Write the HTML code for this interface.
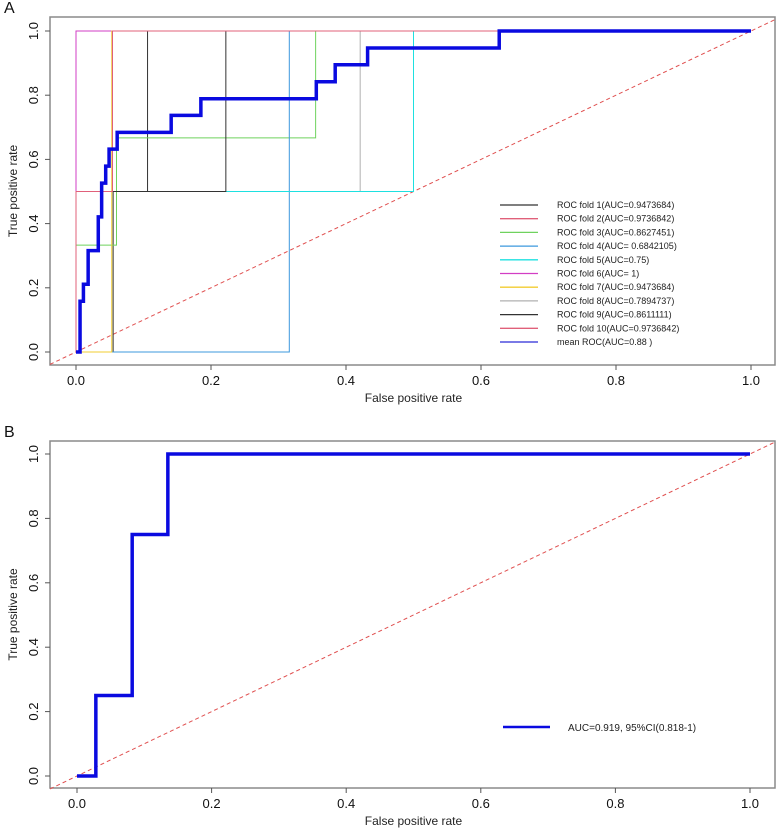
<!DOCTYPE html>
<html><head><meta charset="utf-8"><style>
html,body{margin:0;padding:0;background:#fff;}
svg{display:block;font-family:"Liberation Sans",Arial,sans-serif;}
</style></head><body>
<svg id="chart" width="777" height="833" viewBox="0 0 777 833" xmlns="http://www.w3.org/2000/svg"></svg>
<script>
// ---- data ----
const xTicks = [0, 0.2, 0.4, 0.6, 0.8, 1.0];
const yTicks = [0, 0.2, 0.4, 0.6, 0.8, 1.0];
const tickLabels = ["0.0","0.2","0.4","0.6","0.8","1.0"];
const foldNames = ["ROC fold 1(AUC=0.9473684)","ROC fold 2(AUC=0.9736842)","ROC fold 3(AUC=0.8627451)","ROC fold 4(AUC= 0.6842105)","ROC fold 5(AUC=0.75)","ROC fold 6(AUC= 1)","ROC fold 7(AUC=0.9473684)","ROC fold 8(AUC=0.7894737)","ROC fold 9(AUC=0.8611111)","ROC fold 10(AUC=0.9736842)","mean ROC(AUC=0.88 )"];
const foldColors = ["#333333","#e0607a","#6fd25e","#3c98dd","#1ee0e0","#d23ec4","#f2cc30","#b0b0b0","#333333","#e0607a","#2a2ad8"];
const fold1X = [0,0.055,0.055,0.106,0.106,1];     const fold1Y = [0,0,0.5,0.5,1,1];
const fold2X = [0,0,0.054,0.054,1];               const fold2Y = [0,0.5,0.5,1,1];
const fold3X = [0,0,0.06,0.06,0.355,0.355,1];     const fold3Y = [0,0.333,0.333,0.667,0.667,1,1];
const fold4X = [0,0.316,0.316,1];                 const fold4Y = [0,0,1,1];
const fold5X = [0,0,0.5,0.5,1];                   const fold5Y = [0,0.5,0.5,1,1];
const fold6X = [0,0,1];                           const fold6Y = [0,1,1];
const fold7X = [0,0.053,0.053,0.053,1];           const fold7Y = [0,0,0.5,1,1];
const fold8X = [0,0,0.421,0.421,1];               const fold8Y = [0,0.5,0.5,1,1];
const fold9X = [0,0,0.222,0.222,1];               const fold9Y = [0,0.5,0.5,1,1];
const fold10X = [0,0,0.054,0.054,1];              const fold10Y = [0,0.5,0.5,1,1];
const meanX = [0,0.006,0.006,0.011,0.011,0.018,0.018,0.033,0.033,0.038,0.038,0.044,0.044,0.049,0.049,0.061,0.061,0.141,0.141,0.185,0.185,0.356,0.356,0.384,0.384,0.432,0.432,0.627,0.627,1];
const meanY = [0,0,0.158,0.158,0.211,0.211,0.316,0.316,0.421,0.421,0.526,0.526,0.579,0.579,0.632,0.632,0.684,0.684,0.737,0.737,0.789,0.789,0.842,0.842,0.895,0.895,0.947,0.947,1,1];
const bX = [0,0.028,0.028,0.082,0.082,0.135,0.135,1];
const bY = [0,0,0.25,0.25,0.75,0.75,1,1];
const bLegend = "AUC=0.919, 95%CI(0.818-1)";

const NS="http://www.w3.org/2000/svg";
const svg=document.getElementById('chart');
function mk(tag,attrs,parent){const e=document.createElementNS(NS,tag);for(const k in attrs)e.setAttribute(k,attrs[k]);(parent||svg).appendChild(e);return e;}

function panel(p){
  const g=mk('g',{});
  
  
  const sx=v=>p.x0+(p.x1-p.x0)*v, sy=v=>p.y0-(p.y0-p.y1)*v;
  const box=mk('rect',{x:50,y:p.top,width:725,height:p.bottom-p.top,fill:'none',stroke:'#8a8a8a','stroke-width':1.5},g);
  
  
  const lab=mk('text',{x:4,y:p.top-4,'font-size':16,fill:'#111'},g);lab.textContent=p.letter;
  
  
  xTicks.forEach((v,i)=>{
    mk('line',{x1:sx(v),x2:sx(v),y1:p.bottom,y2:p.bottom+5,stroke:'#555'},g);
    const t=mk('text',{x:sx(v),y:p.bottom+20,'font-size':13,'text-anchor':'middle',fill:'#111'},g);t.textContent=tickLabels[i];
    
    
  });
  yTicks.forEach((v,i)=>{
    mk('line',{x1:45,x2:50,y1:sy(v),y2:sy(v),stroke:'#555'},g);
    const t=mk('text',{x:0,y:0,'font-size':13,'text-anchor':'middle',fill:'#111',transform:`translate(38,${sy(v)}) rotate(-90)`},g);t.textContent=tickLabels[i];
    
    
  });
  const xt=mk('text',{x:(p.x0+p.x1)/2,y:p.bottom+37,'font-size':12,'text-anchor':'middle',fill:'#222'},g);xt.textContent='False positive rate';
  
  
  const yt=mk('text',{x:0,y:0,'font-size':12,'text-anchor':'middle',fill:'#222',transform:`translate(17,${(p.top+p.bottom)/2}) rotate(-90)`},g);yt.textContent='True positive rate';
  
  
  const line=(xs,ys,col,w,nm)=>{
    const pl=mk('polyline',{points:xs.map((x,i)=>sx(x)+','+sy(ys[i])).join(' '),fill:'none',stroke:col,'stroke-width':w},g);
    
    
  };
  const d=mk('line',{x1:50,y1:sy((50-p.x0)/(p.x1-p.x0)),x2:775,y2:sy((775-p.x0)/(p.x1-p.x0)),stroke:'#e05050','stroke-width':1,'stroke-dasharray':'4,3'},g);
  
  
  return {g,sx,sy,line};
}

// Panel A
const A=panel({name:'panel-a',letter:'A',top:17,bottom:365,x0:76,x1:751,y0:352,y1:31});
const folds=[[fold1X,fold1Y],[fold2X,fold2Y],[fold3X,fold3Y],[fold4X,fold4Y],[fold8X,fold8Y],[fold5X,fold5Y],[fold6X,fold6Y],[fold7X,fold7Y],[fold9X,fold9Y],[fold10X,fold10Y]];
const foldOrder=[0,1,2,3,7,4,5,6,8,9];
folds.forEach((f,i)=>A.line(f[0],f[1],foldColors[foldOrder[i]],1,'roc-fold-'+(foldOrder[i]+1)));
A.line(meanX,meanY,'#0a0ae0',3.5,'mean-roc');
foldNames.forEach((n,i)=>{
  const y=205+i*13.7;
  const lg=mk('g',{},A.g);
  
  
  mk('line',{x1:500,x2:538,y1:y,y2:y,stroke:foldColors[i],'stroke-width':1.3},lg);
  const t=mk('text',{x:557,y:y+3,'font-size':9,fill:'#222'},lg);t.textContent=n;
});

// Panel B
const B=panel({name:'panel-b',letter:'B',top:441,bottom:788,x0:77,x1:750,y0:776,y1:454});
B.line(bX,bY,'#0a0ae0',3.5,'roc-curve');
const bl=mk('g',{},B.g);


mk('line',{x1:503,x2:550,y1:727,y2:727,stroke:'#0a0ae0','stroke-width':2.5},bl);
const blt=mk('text',{x:568,y:731,'font-size':10,fill:'#222'},bl);blt.textContent=bLegend;
</script>
</body></html>
